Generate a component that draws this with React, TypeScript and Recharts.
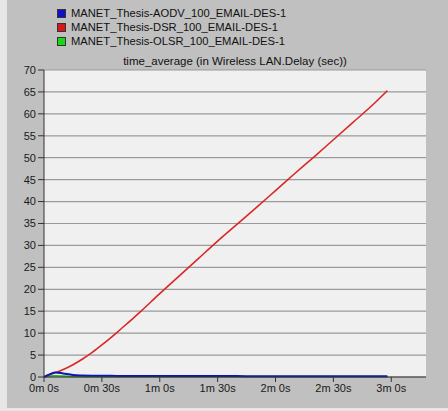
import { CartesianGrid, Line, LineChart, XAxis, YAxis } from "recharts";

// sample times (seconds) shared by every series
const times = [0, 3, 6, 10, 15, 20, 25, 30, 35, 40, 45, 50, 60, 70, 80, 90, 100, 110, 120, 130, 140, 150, 160, 170, 178];

const aodv = [0, 0.6, 1.05, 0.8, 0.45, 0.35, 0.3, 0.28, 0.26, 0.25, 0.24, 0.23, 0.22, 0.21, 0.21, 0.2, 0.2, 0.19, 0.19, 0.18, 0.18, 0.18, 0.17, 0.17, 0.17];
const dsr = [0, 0.6, 1.0, 1.7, 2.8, 4.1, 5.6, 7.3, 9.1, 11.0, 12.9, 14.9, 19.0, 23.0, 27.0, 31.0, 34.8, 38.6, 42.5, 46.4, 50.2, 54.1, 58.0, 61.9, 65.3];
const olsr = [0, 0.2, 0.3, 0.2, 0.12, 0.08, 0.07, 0.06, 0.06, 0.05, 0.05, 0.05, 0.05, 0.05, 0.05, 0.05, 0.05, 0.05, 0.05, 0.05, 0.05, 0.05, 0.05, 0.05, 0.05];

const yTicks = [0, 5, 10, 15, 20, 25, 30, 35, 40, 45, 50, 55, 60, 65, 70];
const xTicks = [0, 30, 60, 90, 120, 150, 180];

const legendItems = [
  { name: "MANET_Thesis-AODV_100_EMAIL-DES-1", color: "#1010c8" },
  { name: "MANET_Thesis-DSR_100_EMAIL-DES-1", color: "#d81818" },
  { name: "MANET_Thesis-OLSR_100_EMAIL-DES-1", color: "#18d818" },
];

const title = "time_average (in Wireless LAN.Delay (sec))";

const FONT = "'Liberation Sans', Arial, sans-serif";

function fmtTime(s: number): string {
  const m = Math.floor(s / 60);
  return `${m}m ${s - m * 60}s`;
}

export default function App() {
  const data = times.map((t, i) => ({ t, aodv: aodv[i], dsr: dsr[i], olsr: olsr[i] }));
  const tick = { fill: "#1a1a1a", fontSize: 11, fontFamily: FONT };

  return (
    <div style={{ position: "relative", width: 448, height: 411, background: "#e6e6e6", fontFamily: FONT }}>
      <style>{"body{margin:0}"}</style>
      <div style={{ position: "absolute", left: 7, top: 0, width: 441, height: 408, background: "#c0c0c0" }} />
      <div style={{ position: "absolute", left: 0, top: 0 }}>
        <LineChart width={448} height={411} data={data} margin={{ top: 70, right: 22, bottom: 0, left: 0 }}>
          <CartesianGrid vertical={false} stroke="#9a9a9a" strokeWidth={1.2} fill="#f0f0f0" fillOpacity={1} />
          <XAxis
            dataKey="t"
            type="number"
            domain={[0, 198]}
            ticks={xTicks}
            tickFormatter={fmtTime}
            height={34}
            tick={tick}
            tickSize={5}
            stroke="#333"
            axisLine={{ stroke: "#333" }}
            tickLine={{ stroke: "#333" }}
          />
          <XAxis xAxisId="top" orientation="top" dataKey="t" type="number" domain={[0, 198]} tick={false} tickLine={false} height={0} axisLine={{ stroke: "#111" }} />
          <YAxis
            domain={[0, 70]}
            ticks={yTicks}
            width={44}
            tick={tick}
            tickSize={6}
            interval={0}
            axisLine={{ stroke: "#333" }}
            tickLine={{ stroke: "#333" }}
          />
          <YAxis yAxisId="right" orientation="right" domain={[0, 70]} tick={false} tickLine={false} width={0} axisLine={{ stroke: "#444" }} />
          <Line type="monotone" dataKey="olsr" stroke="#18b818" strokeWidth={1.5} dot={false} isAnimationActive={false} />
          <Line type="monotone" dataKey="dsr" stroke="#d82828" strokeWidth={1.6} dot={false} isAnimationActive={false} />
          <Line type="monotone" dataKey="aodv" stroke="#1414b4" strokeWidth={2} dot={false} isAnimationActive={false} />
        </LineChart>
      </div>
      {legendItems.map((it, i) => (
        <div
          key={it.name}
          style={{ position: "absolute", left: 57, top: 6 + i * 14, height: 14, display: "flex", alignItems: "center", fontSize: 11.2, color: "#111", whiteSpace: "nowrap" }}
        >
          <span style={{ display: "inline-block", width: 7, height: 7, background: it.color, border: "1px solid #333", marginRight: 5 }} />
          {it.name}
        </div>
      ))}
      <div style={{ position: "absolute", left: 44, width: 382, top: 55, textAlign: "center", fontSize: 11.5, color: "#111" }}>{title}</div>
    </div>
  );
}
